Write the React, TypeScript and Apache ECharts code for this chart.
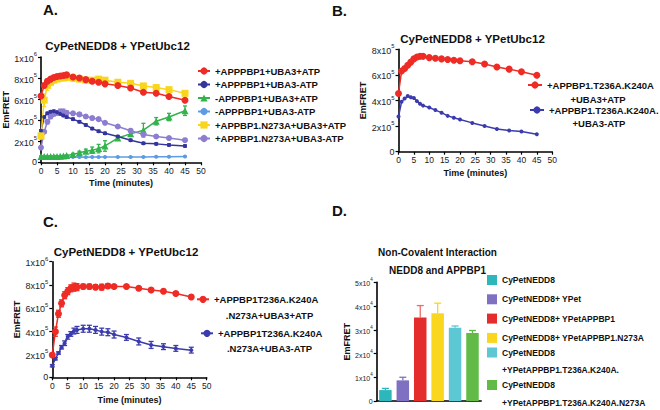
import React, { useEffect, useRef } from 'react';
import * as echarts from 'echarts';

const FONT = '"Liberation Sans", Arial, Helvetica, sans-serif';

// ---------- Panel A ----------
const timeA = [0, 1, 2, 3, 4, 5, 6, 7, 8, 10, 12, 14, 16, 18, 20, 24, 28, 32, 36, 40, 45];
const namesA = [
  '+APPPBP1+UBA3+ATP',
  '+APPPBP1+UBA3-ATP',
  '-APPPBP1+UBA3+ATP',
  '-APPPBP1+UBA3-ATP',
  '+APPBP1.N273A+UBA3+ATP',
  '+APPBP1.N273A+UBA3-ATP',
];
const aRed = [6.3e5, 7.3e5, 7.7e5, 7.9e5, 8.05e5, 8.15e5, 8.2e5, 8.25e5, 8.3e5, 8.1e5, 8.0e5, 7.85e5, 7.7e5, 7.6e5, 7.45e5, 7.3e5, 7.05e5, 6.65e5, 6.55e5, 6.25e5, 5.9e5];
const aDarkBlue = [3.0e5, 4.3e5, 4.65e5, 4.8e5, 4.85e5, 4.75e5, 4.6e5, 4.45e5, 4.3e5, 4.1e5, 3.85e5, 3.55e5, 3.2e5, 2.95e5, 2.75e5, 2.45e5, 2.1e5, 1.8e5, 1.75e5, 1.65e5, 1.55e5];
const aGreen = [0.55e5, 0.55e5, 0.54e5, 0.55e5, 0.55e5, 0.56e5, 0.58e5, 0.6e5, 0.65e5, 0.75e5, 0.9e5, 1.05e5, 1.15e5, 1.3e5, 1.55e5, 2.3e5, 2.7e5, 3.05e5, 3.9e5, 4.3e5, 4.9e5];
const aLightBlue = [0.5e5, 0.52e5, 0.5e5, 0.51e5, 0.5e5, 0.5e5, 0.5e5, 0.49e5, 0.5e5, 0.5e5, 0.5e5, 0.49e5, 0.5e5, 0.5e5, 0.5e5, 0.5e5, 0.5e5, 0.51e5, 0.52e5, 0.53e5, 0.55e5];
const aYellow = [2.5e5, 5.9e5, 7.3e5, 7.6e5, 7.8e5, 7.9e5, 8.0e5, 8.0e5, 8.05e5, 8.0e5, 7.9e5, 7.8e5, 7.8e5, 7.9e5, 7.8e5, 7.6e5, 7.5e5, 7.25e5, 7.1e5, 6.9e5, 6.55e5];
const aPurple = [1.4e5, 2.9e5, 3.85e5, 4.35e5, 4.6e5, 4.7e5, 4.8e5, 4.8e5, 4.7e5, 4.65e5, 4.55e5, 4.35e5, 4.2e5, 4.1e5, 3.75e5, 3.4e5, 3.0e5, 2.65e5, 2.45e5, 2.3e5, 2.1e5];
const aRedErr = [0.15e5, 0.2e5, 0.2e5, 0.15e5, 0.15e5, 0.15e5, 0.1e5, 0.1e5, 0.1e5, 0.1e5, 0.1e5, 0.1e5, 0.1e5, 0.1e5, 0.1e5, 0.1e5, 0.1e5, 0.1e5, 0.1e5, 0.1e5, 0.1e5];
const aDarkBlueErr = [0.1e5, 0.1e5, 0.1e5, 0.1e5, 0.1e5, 0.1e5, 0.1e5, 0.1e5, 0.1e5, 0.1e5, 0.1e5, 0.1e5, 0.1e5, 0.1e5, 0.1e5, 0.1e5, 0.1e5, 0.1e5, 0.1e5, 0.1e5, 0.1e5];
const aGreenErr = [0.05e5, 0.05e5, 0.05e5, 0.05e5, 0.05e5, 0.05e5, 0.05e5, 0.05e5, 0.05e5, 0.1e5, 0.15e5, 0.2e5, 0.3e5, 0.4e5, 0.5e5, 0.1e5, 0.25e5, 0.65e5, 0.35e5, 0.35e5, 0.45e5];
const aLightBlueErr = [0.03e5, 0.03e5, 0.03e5, 0.03e5, 0.03e5, 0.03e5, 0.03e5, 0.03e5, 0.03e5, 0.03e5, 0.03e5, 0.03e5, 0.03e5, 0.03e5, 0.03e5, 0.03e5, 0.03e5, 0.03e5, 0.03e5, 0.03e5, 0.03e5];
const aYellowErr = [0.3e5, 0.6e5, 0.45e5, 0.3e5, 0.25e5, 0.2e5, 0.2e5, 0.2e5, 0.25e5, 0.3e5, 0.15e5, 0.15e5, 0.15e5, 0.2e5, 0.2e5, 0.15e5, 0.15e5, 0.15e5, 0.15e5, 0.15e5, 0.15e5];
const aPurpleErr = [0.1e5, 0.15e5, 0.2e5, 0.2e5, 0.2e5, 0.2e5, 0.25e5, 0.25e5, 0.2e5, 0.15e5, 0.15e5, 0.15e5, 0.15e5, 0.1e5, 0.1e5, 0.1e5, 0.1e5, 0.1e5, 0.1e5, 0.1e5, 0.1e5];

// ---------- Panel B ----------
const timeB = [0, 1, 2, 3, 4, 5, 6, 7, 8, 10, 12, 14, 16, 18, 20, 24, 28, 32, 36, 40, 45];
const namesB = ['+APPBP1.T236A.K240A\n+UBA3+ATP', '+APPBP1.T236A.K240A.\n+UBA3-ATP'];
const bRed = [4.55e5, 6.3e5, 6.5e5, 6.75e5, 7.0e5, 7.25e5, 7.4e5, 7.45e5, 7.45e5, 7.35e5, 7.3e5, 7.25e5, 7.2e5, 7.15e5, 7.1e5, 7.03e5, 6.85e5, 6.62e5, 6.45e5, 6.25e5, 5.97e5];
const bBlue = [2.75e5, 3.9e5, 4.15e5, 4.35e5, 4.25e5, 4.2e5, 3.95e5, 3.75e5, 3.6e5, 3.45e5, 3.25e5, 3.05e5, 2.8e5, 2.65e5, 2.52e5, 2.25e5, 2.0e5, 1.77e5, 1.65e5, 1.58e5, 1.36e5];

// ---------- Panel C ----------
const timeC = [0, 1, 2, 3, 4, 5, 6, 7, 8, 10, 12, 14, 16, 18, 20, 24, 28, 32, 36, 40, 45];
const namesC = ['+APPBP1T236A.K240A\n.N273A+UBA3+ATP', '+APPBP1T236A.K240A\n.N273A+UBA3-ATP'];
const cRed = [1.93e5, 3.95e5, 5.5e5, 6.4e5, 7.1e5, 7.45e5, 7.7e5, 7.8e5, 7.8e5, 7.85e5, 7.85e5, 7.8e5, 7.8e5, 7.9e5, 7.85e5, 7.85e5, 7.7e5, 7.55e5, 7.45e5, 7.25e5, 6.95e5];
const cBlue = [1.0e5, 1.6e5, 2.1e5, 2.6e5, 2.95e5, 3.5e5, 3.75e5, 4.0e5, 4.1e5, 4.2e5, 4.2e5, 4.1e5, 3.95e5, 3.9e5, 3.7e5, 3.45e5, 3.1e5, 2.8e5, 2.65e5, 2.5e5, 2.35e5];
const cRedErr = [0.15e5, 0.4e5, 0.3e5, 0.3e5, 0.3e5, 0.3e5, 0.3e5, 0.35e5, 0.3e5, 0.2e5, 0.2e5, 0.2e5, 0.25e5, 0.2e5, 0.15e5, 0.15e5, 0.15e5, 0.15e5, 0.15e5, 0.15e5, 0.15e5];
const cBlueErr = [0.1e5, 0.1e5, 0.1e5, 0.15e5, 0.2e5, 0.2e5, 0.2e5, 0.25e5, 0.3e5, 0.3e5, 0.3e5, 0.3e5, 0.3e5, 0.3e5, 0.3e5, 0.25e5, 0.3e5, 0.3e5, 0.25e5, 0.25e5, 0.25e5];

// ---------- Panel D ----------
const namesD = [
  'CyPetNEDD8',
  'CyPetNEDD8+ YPet',
  'CyPetNEDD8+ YPetAPPBP1',
  'CyPetNEDD8+ YPetAPPBP1.N273A',
  'CyPetNEDD8\n+YPetAPPBP1.T236A.K240A.',
  'CyPetNEDD8\n+YPetAPPBP1.T236A.K240A.N273A',
];
const valuesD = [0.46e4, 0.87e4, 3.52e4, 3.7e4, 3.09e4, 2.86e4];
const errD = [0.07e4, 0.13e4, 0.5e4, 0.42e4, 0.07e4, 0.11e4];
const colorsD = ['#2DB7BB', '#7F70C1', '#E42C2C', '#F8D71E', '#5EC7D4', '#63BB47'];
const errColorsD = ['#2DB7BB', '#7F70C1', '#EE6B66', '#F8D71E', '#5EC7D4', '#63BB47'];

const RED = '#EE2B25';
const DBLUE = '#34349F';
const GREEN = '#32B34B';
const LBLUE = '#5C9CE4';
const YELLOW = '#F9D51B';
const PURPLE = '#8D7DD1';
const BBLUE = '#3B3BAD';

function sciLabel(v: number) {
  if (v === 0) return '0';
  const e = Math.floor(Math.log10(v) + 1e-9);
  const m = Math.round(v / Math.pow(10, e));
  return `{m|${m}x10}{e|${e}}`;
}

function lineSeries(name: string, x: number[], y: number[], color: string, symbol: string, size: number, gi: number) {
  return {
    type: 'line',
    name,
    xAxisIndex: gi,
    yAxisIndex: gi,
    z: 3,
    data: x.map((t, i) => [t, y[i]]),
    symbol,
    symbolSize: size,
    showSymbol: true,
    lineStyle: { color, width: 1.5 },
    itemStyle: { color, borderWidth: 0 },
    emphasis: { disabled: true },
  };
}

function errSeries(id: string, x: number[], y: number[], err: number[], color: string | string[], gi: number, upOnly: boolean, capW: number) {
  return {
    type: 'custom',
    name: id,
    xAxisIndex: gi,
    yAxisIndex: gi,
    z: upOnly ? 4 : 2,
    silent: true,
    data: x.map((t, i) => [t, y[i], err[i]]),
    renderItem: (params: any, api: any) => {
      const xv = api.value(0);
      const yv = api.value(1);
      const ev = api.value(2);
      const top = api.coord([xv, yv + ev]);
      const bot = api.coord([xv, upOnly ? yv : yv - ev]);
      const c = Array.isArray(color) ? color[params.dataIndex] : color;
      const style = { stroke: c, lineWidth: 1.3 };
      const children: any[] = [
        { type: 'line', shape: { x1: top[0], y1: top[1], x2: bot[0], y2: bot[1] }, style },
        { type: 'line', shape: { x1: top[0] - capW / 2, y1: top[1], x2: top[0] + capW / 2, y2: top[1] }, style },
      ];
      if (!upOnly) {
        children.push({ type: 'line', shape: { x1: bot[0] - capW / 2, y1: bot[1], x2: bot[0] + capW / 2, y2: bot[1] }, style });
      }
      return { type: 'group', children };
    },
  };
}

const axisLineStyle = { color: '#000', width: 1.6 };

function timeAxis(gi: number, nameGap: number) {
  return {
    type: 'value',
    gridIndex: gi,
    min: 0,
    max: 50,
    interval: 5,
    name: 'Time (minutes)',
    nameLocation: 'middle',
    nameGap,
    nameTextStyle: { fontSize: 9, fontWeight: 'bold', color: '#111', fontFamily: FONT },
    axisLine: { show: true, onZero: false, lineStyle: axisLineStyle },
    axisTick: { show: true, length: 3, lineStyle: { color: '#000', width: 1.2 } },
    axisLabel: { fontSize: 8.5, color: '#222', margin: 4, fontFamily: FONT },
    splitLine: { show: false },
  };
}

function valueAxis(gi: number, max: number, interval: number, nameGap: number, labelSize: number) {
  return {
    type: 'value',
    gridIndex: gi,
    min: 0,
    max,
    interval,
    name: 'EmFRET',
    nameLocation: 'middle',
    nameRotate: 90,
    nameGap,
    nameTextStyle: { fontSize: 9, fontWeight: 'bold', color: '#111', fontFamily: FONT },
    axisLine: { show: true, onZero: false, lineStyle: axisLineStyle },
    axisTick: { show: true, length: 3, lineStyle: { color: '#000', width: 1.2 } },
    axisLabel: {
      margin: 4,
      formatter: sciLabel,
      color: '#222',
      fontSize: labelSize,
      fontFamily: FONT,
      rich: {
        m: { fontSize: labelSize, lineHeight: labelSize + 3, verticalAlign: 'bottom', color: '#222', fontFamily: FONT },
        e: { fontSize: labelSize * 0.65, lineHeight: labelSize * 0.7, verticalAlign: 'top', color: '#222', fontFamily: FONT },
      },
    },
    splitLine: { show: false },
  };
}

const legendText = { fontSize: 9.5, fontWeight: 'bold', color: '#111', fontFamily: FONT };

// Legend entry showing the first line of a two-line label (the second line is a centred text below it).
function firstLineLegend(name: string, left: number, top: number, itemWidth: number, lh: number) {
  return {
    data: [name],
    left,
    top,
    padding: 0,
    itemWidth,
    itemHeight: 9,
    selectedMode: false,
    formatter: (n: string) => n.split('\n')[0],
    textStyle: { ...legendText, lineHeight: lh },
  };
}

function secondLine(name: string, cx: number, top: number, lh: number) {
  return {
    text: name.split('\n')[1],
    left: cx,
    top,
    textAlign: 'center',
    padding: 0,
    textStyle: { ...legendText, lineHeight: lh },
  };
}

export default function App() {
  const ref = useRef<HTMLDivElement>(null);
  useEffect(() => {
    document.body.style.margin = '0';
    if (!ref.current) return;
    const chart = echarts.init(ref.current, undefined, { renderer: 'svg' });
    const titleStyle = { fontSize: 11.5, fontWeight: 'bold', color: '#111', lineHeight: 14, fontFamily: FONT };
    const panelStyle = { fontSize: 15, fontWeight: 'bold', color: '#111', lineHeight: 16, fontFamily: FONT };
    const option: any = {
      animation: false,
      backgroundColor: '#fff',
      textStyle: { fontFamily: FONT },
      title: [
        { text: 'A.', left: 43, top: 1.5, padding: 0, textStyle: panelStyle },
        { text: 'B.', left: 332, top: 2, padding: 0, textStyle: panelStyle },
        { text: 'C.', left: 43, top: 213.5, padding: 0, textStyle: panelStyle },
        { text: 'D.', left: 332, top: 202, padding: 0, textStyle: panelStyle },
        { text: 'CyPetNEDD8 + YPetUbc12', left: 117.5, top: 39, textAlign: 'center', padding: 0, textStyle: titleStyle },
        { text: 'CyPetNEDD8 + YPetUbc12', left: 472.5, top: 32, textAlign: 'center', padding: 0, textStyle: titleStyle },
        { text: 'CyPetNEDD8 + YPetUbc12', left: 126, top: 245, textAlign: 'center', padding: 0, textStyle: titleStyle },
        {
          text: 'Non-Covalent Interaction\nNEDD8 and APPBP1',
          left: 437.5,
          top: 243.75,
          textAlign: 'center',
          padding: 0,
          textStyle: { fontSize: 10, fontWeight: 'bold', color: '#111', lineHeight: 17.5, fontFamily: FONT },
        },
        secondLine(namesB[0], 598, 92.25, 13.5),
        secondLine(namesB[1], 599, 116.25, 13.5),
        secondLine(namesC[0], 269.5, 307.5, 15),
        secondLine(namesC[1], 269.5, 340.8, 15),
      ],
      legend: [
        {
          data: namesA,
          orient: 'vertical',
          left: 197,
          top: 64.25,
          padding: 0,
          itemWidth: 12,
          itemHeight: 9,
          itemGap: 0,
          selectedMode: false,
          textStyle: { ...legendText, lineHeight: 13.5 },
        },
        firstLineLegend(namesB[0], 527, 78.25, 14, 13.5),
        firstLineLegend(namesB[1], 529, 103.25, 14, 13.5),
        firstLineLegend(namesC[0], 196, 291.8, 12, 15),
        firstLineLegend(namesC[1], 200, 325.8, 12, 15),
        {
          data: namesD.slice(0, 4),
          orient: 'vertical',
          left: 487,
          top: 271.25,
          padding: 0,
          itemWidth: 10,
          itemHeight: 10,
          itemGap: 1.8,
          icon: 'rect',
          selectedMode: false,
          textStyle: { fontSize: 8.5, fontWeight: 'bold', color: '#111', lineHeight: 17.5, fontFamily: FONT },
        },
        {
          data: [namesD[4]],
          left: 487,
          top: 326.25,
          padding: 0,
          itemWidth: 10,
          itemHeight: 10,
          icon: 'rect',
          selectedMode: false,
          formatter: (n: string) => '\n' + n,
          textStyle: { fontSize: 8.5, fontWeight: 'bold', color: '#111', lineHeight: 17.5, fontFamily: FONT },
        },
        {
          data: [namesD[5]],
          left: 487,
          top: 358.75,
          padding: 0,
          itemWidth: 10,
          itemHeight: 10,
          icon: 'rect',
          selectedMode: false,
          formatter: (n: string) => '\n' + n,
          textStyle: { fontSize: 8.5, fontWeight: 'bold', color: '#111', lineHeight: 17.5, fontFamily: FONT },
        },
      ],
      grid: [
        { left: 41, top: 57, width: 160, height: 105.3 },
        { left: 398.5, top: 49.3, width: 153.7, height: 102.4 },
        { left: 52.3, top: 261.7, width: 154.4, height: 115.6 },
        { left: 376.7, top: 282.3, width: 104.5, height: 118.7 },
      ],
      xAxis: [
        timeAxis(0, 16.5),
        timeAxis(1, 16.5),
        timeAxis(2, 18),
        {
          type: 'category',
          gridIndex: 3,
          data: namesD,
          axisLine: { show: true, lineStyle: axisLineStyle },
          axisTick: { show: false },
          axisLabel: { show: false },
        },
      ],
      yAxis: [
        valueAxis(0, 1e6, 2e5, 22, 9),
        valueAxis(1, 8e5, 2e5, 24.5, 9),
        valueAxis(2, 1e6, 2e5, 12, 9),
        valueAxis(3, 5e4, 1e4, 18, 7),
      ],
      series: [
        errSeries('errARed', timeA, aRed, aRedErr, RED, 0, false, 4),
        errSeries('errADarkBlue', timeA, aDarkBlue, aDarkBlueErr, DBLUE, 0, false, 4),
        errSeries('errAGreen', timeA, aGreen, aGreenErr, GREEN, 0, false, 4),
        errSeries('errALightBlue', timeA, aLightBlue, aLightBlueErr, LBLUE, 0, false, 4),
        errSeries('errAYellow', timeA, aYellow, aYellowErr, YELLOW, 0, false, 4),
        errSeries('errAPurple', timeA, aPurple, aPurpleErr, PURPLE, 0, false, 4),
        lineSeries(namesA[3], timeA, aLightBlue, LBLUE, 'circle', 4, 0),
        lineSeries(namesA[2], timeA, aGreen, GREEN, 'triangle', 7, 0),
        lineSeries(namesA[5], timeA, aPurple, PURPLE, 'circle', 6, 0),
        lineSeries(namesA[1], timeA, aDarkBlue, DBLUE, 'circle', 4, 0),
        lineSeries(namesA[4], timeA, aYellow, YELLOW, 'rect', 7, 0),
        lineSeries(namesA[0], timeA, aRed, RED, 'circle', 7, 0),
        lineSeries(namesB[1], timeB, bBlue, BBLUE, 'circle', 4, 1),
        lineSeries(namesB[0], timeB, bRed, RED, 'circle', 7, 1),
        errSeries('errCRed', timeC, cRed, cRedErr, RED, 2, false, 5),
        errSeries('errCBlue', timeC, cBlue, cBlueErr, BBLUE, 2, false, 5),
        lineSeries(namesC[1], timeC, cBlue, BBLUE, 'circle', 4, 2),
        lineSeries(namesC[0], timeC, cRed, RED, 'circle', 7, 2),
        ...namesD.map((n, i) => ({
          type: 'bar',
          name: n,
          xAxisIndex: 3,
          yAxisIndex: 3,
          stack: 'd',
          barWidth: 12.5,
          data: valuesD.map((v, j) => (j === i ? v : '-')),
          itemStyle: { color: colorsD[i] },
          emphasis: { disabled: true },
        })),
        errSeries('errD', [0, 1, 2, 3, 4, 5], valuesD, errD, errColorsD, 3, true, 7),
      ],
    };
    chart.setOption(option);
    return () => chart.dispose();
  }, []);
  return <div ref={ref} style={{ width: 660, height: 410 }} />;
}
